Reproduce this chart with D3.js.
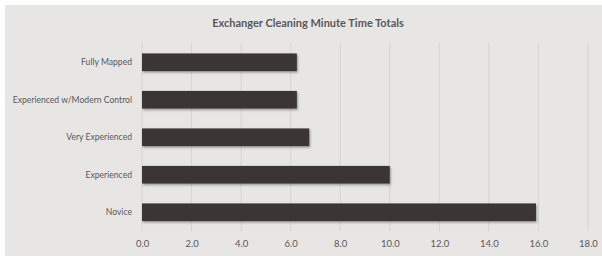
<!DOCTYPE html>
<html><head><meta charset="utf-8">
<script src="https://cdn.jsdelivr.net/npm/d3@7"></script>
<style>
html,body{margin:0;padding:0;background:#fff;}
svg{display:block;}
</style></head>
<body>
<script>
const title = "Exchanger Cleaning Minute Time Totals";
const categories = ["Fully Mapped","Experienced w/Modern Control","Very Experienced","Experienced","Novice"];
const values = [6.25, 6.25, 6.75, 10.0, 15.9];
const xTicks = [0,2,4,6,8,10,12,14,16,18];

const W = 602, H = 256;
const svg = d3.select("body").append("svg").attr("width", W).attr("height", H);
svg.append("rect").attr("x",5).attr("y",5).attr("width",W-5).attr("height",H-5).attr("fill","#e8e5e5");
const defs = svg.append("defs");
const f = defs.append("filter").attr("id","sh").attr("x","-5%").attr("y","-20%").attr("width","110%").attr("height","160%");
f.append("feDropShadow").attr("dx",1).attr("dy",1.5).attr("stdDeviation",1).attr("flood-color","#000").attr("flood-opacity",0.35);

svg.append("text").attr("x",308).attr("y",27).attr("text-anchor","middle")
  .attr("font-family","Lato, 'Open Sans', sans-serif").attr("font-weight","bold").attr("font-size",11)
  .attr("fill","#595959").text(title);

const x = d3.scaleLinear().domain([0,18]).range([142,588]);
const y = d3.scaleBand().domain(categories).range([43.5,231]).paddingInner(0.53).paddingOuter(0.265);

const grid = svg.append("g");
grid.selectAll("line").data(xTicks).join("line")
  .attr("x1",d=>x(d)).attr("x2",d=>x(d)).attr("y1",43).attr("y2",231)
  .attr("stroke","#d6d3d3").attr("stroke-width",1);

svg.append("g").selectAll("rect").data(values).join("rect")
  .attr("x",x(0)).attr("y",(d,i)=>y(categories[i]))
  .attr("width",d=>x(d)-x(0)).attr("height",y.bandwidth())
  .attr("fill","#3b3634").attr("filter","url(#sh)");

const yAxis = svg.append("g").attr("transform",`translate(${x(0)-10},0)`)
  .call(d3.axisLeft(y).tickSize(0).tickPadding(0));
yAxis.select(".domain").remove();
yAxis.selectAll("text").attr("font-family","Lato, 'Open Sans', sans-serif").attr("font-size",8.6).attr("fill","#595959");

const xAxis = svg.append("g").attr("transform","translate(0,237)")
  .call(d3.axisBottom(x).tickValues(xTicks).tickFormat(d3.format(".1f")).tickSize(0).tickPadding(3));
xAxis.select(".domain").remove();
xAxis.selectAll("text").attr("font-family","Lato, 'Open Sans', sans-serif").attr("font-size",9.5).attr("fill","#595959");
</script>
</body></html>
